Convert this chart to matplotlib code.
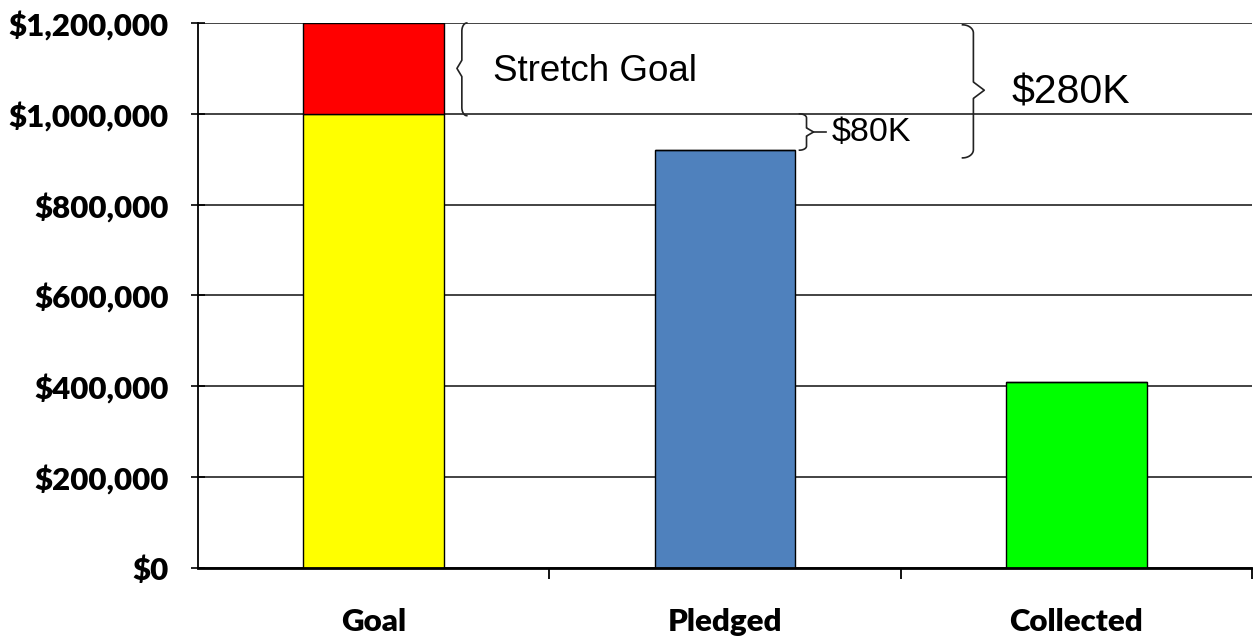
import numpy as np
import matplotlib
matplotlib.use('Agg')
import matplotlib.pyplot as plt

# chart values
categories = ['Goal', 'Pledged', 'Collected']
base_values = [1000000, 920000, 410000]
stretch_values = [200000, 0, 0]
bar_colors = ['#FFFF00', '#4F81BD', '#00FF00']
stretch_color = '#FF0000'
y_ticks = [0, 200000, 400000, 600000, 800000, 1000000, 1200000]
y_tick_labels = ['$0', '$200,000', '$400,000', '$600,000', '$800,000',
                 '$1,000,000', '$1,200,000']
notes = ['Stretch Goal', '$280K', '$80K']


def brace(ax, xm, w, y_top, y_bot, y_mid, ry, tip_side):
    # vertical curly brace, tip_side=-1 points left "{", +1 points right "}"
    s = tip_side
    x_back = xm - s * w
    x_tip = xm + s * w
    t = np.linspace(0, np.pi / 2, 20)
    xs, ys = [], []
    # top arc
    xs += list(x_back + s * w * np.sin(t))
    ys += list((y_top - ry) + ry * np.cos(t))
    # arc into tip from above
    xs += list(x_tip - s * w * np.cos(t))
    ys += list(y_mid + ry * np.cos(t))
    # arc out of tip going down
    xs += list(x_tip - s * w * np.sin(t))
    ys += list(y_mid - ry * np.sin(t))
    # bottom arc
    xs += list(xm - s * w * (1 - np.cos(t)))
    ys += list((y_bot + ry) - ry * np.sin(t))
    ax.plot(xs, ys, color='#222222', lw=1.2, clip_on=False, zorder=4)


fig = plt.figure(figsize=(12.53, 6.37), dpi=100)
ax = fig.add_axes([198 / 1253, 1 - 568 / 637, 1054 / 1253, 545 / 637])

x = np.arange(len(categories))
ax.bar(x, base_values, width=0.4, color=bar_colors, edgecolor='black',
       linewidth=1, zorder=3)
ax.bar(x, stretch_values, width=0.4, bottom=base_values, color=stretch_color,
       edgecolor='black', linewidth=1, zorder=3)

ax.set_xlim(-0.5, 2.5)
ax.set_ylim(0, 1200000)
ax.set_yticks(y_ticks)
ax.set_yticklabels(y_tick_labels)
ax.set_xticks(x)
ax.set_xticklabels(categories)
ax.set_xticks([0.5, 1.5, 2.5], minor=True)

ax.yaxis.grid(True, color='#222222', linewidth=1.2, zorder=0)
ax.set_axisbelow(True)
for sp in ['top', 'right']:
    ax.spines[sp].set_visible(False)
ax.spines['left'].set_linewidth(1.3)
ax.spines['bottom'].set_linewidth(2)
ax.spines['bottom'].set_zorder(5)

ax.tick_params(axis='y', direction='inout', length=10, width=1.2, pad=16)
ax.tick_params(axis='x', which='major', length=0, pad=29)
ax.tick_params(axis='x', which='minor', direction='out', length=8, width=1.3)

for lab in ax.get_yticklabels() + ax.get_xticklabels():
    lab.set_fontfamily('Lato')
    lab.set_fontweight('heavy')
    lab.set_fontsize(22.5)

# annotations
ry = 18000
brace(ax, 0.251, 0.014, 1200000, 996000, 1100000, ry, -1)
brace(ax, 1.707, 0.031, 1196000, 903000, 1052000, ry, 1)
brace(ax, 1.232, 0.02, 1000000, 920000, 960000, 9000, 1)
ax.plot([1.252, 1.287], [960000, 960000], color='#222222', lw=1.2,
        clip_on=False, zorder=4)

ax.text(0.339, 1093000, notes[0], fontfamily='Liberation Sans', fontsize=26.5,
        va='center', ha='left', zorder=5)
ax.text(1.816, 1046000, notes[1], fontfamily='Liberation Sans', fontsize=29.5,
        va='center', ha='left', zorder=5)
ax.text(1.304, 959000, notes[2], fontfamily='Liberation Sans', fontsize=24.5,
        va='center', ha='left', zorder=5)

fig.savefig('out.png', dpi=100)
